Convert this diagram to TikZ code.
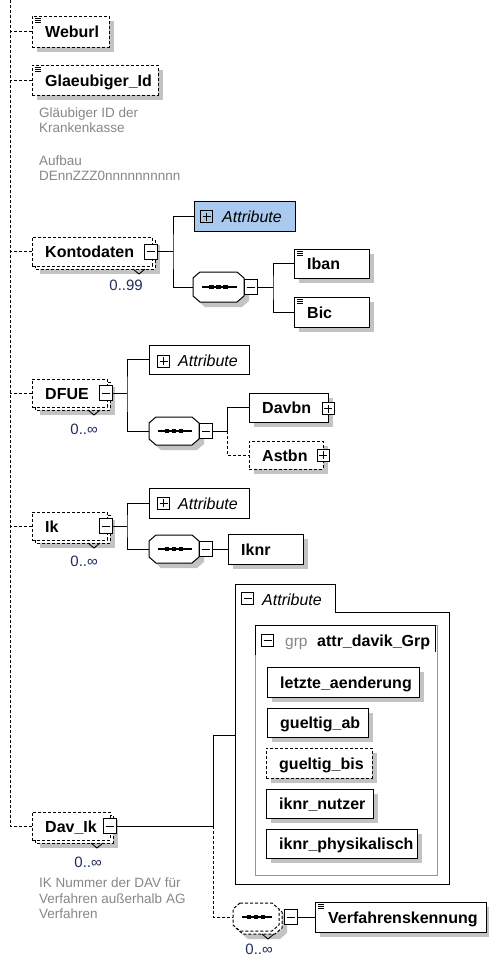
\documentclass[tikz,border=0pt]{standalone}
\usepackage{fontspec}
\setmainfont{Liberation Sans}
\usetikzlibrary{calc}
\definecolor{shadowc}{RGB}{195,195,195}
\definecolor{attrblue}{RGB}{170,201,238}
\definecolor{desctxt}{RGB}{135,135,135}
\definecolor{occtxt}{RGB}{30,45,95}
\definecolor{grpline}{RGB}{150,150,150}
\tikzset{
 bx/.style={draw=black, fill=white, line width=1pt, inner sep=0pt, outer sep=0pt, rectangle},
 dsh/.style={dash pattern=on 3pt off 2pt},
 lbl/.style={font=\fontsize{16}{18}\selectfont\bfseries, inner sep=0pt, text=black},
 itl/.style={font=\fontsize{16}{18}\selectfont\itshape, inner sep=0pt},
 occl/.style={font=\fontsize{15}{17}\selectfont, text=occtxt, inner sep=0pt},
 dsc/.style={font=\fontsize{13.5}{15}\selectfont, text=desctxt, inner sep=0pt},
 conn/.style={draw=black, line width=1pt},
 dconn/.style={conn, dsh},
 pmb/.style={bx, minimum width=13pt, minimum height=15pt},
 pms/.style={bx, minimum width=12pt, minimum height=12pt},
}
\newcommand\mkpm[5]{%
 \node[#4] (#1) at (#2,#3) {};
 \draw[line width=1pt] ([xshift=-4pt]#1.center) -- ([xshift=4pt]#1.center);
 \ifnum#5=1 \draw[line width=1pt] ([yshift=-4pt]#1.center) -- ([yshift=4pt]#1.center);\fi
}
\newcommand\mkicon[2]{%
 \foreach \kk in {2.5,4.5,6.5} \draw[line width=0.8pt] (#1+3,#2+\kk) -- (#1+9,#2+\kk);}
\newcommand\mkel[8]{%
 \fill[shadowc] (#2+5,#3+5) rectangle (#4+5,#5+5);
 \node[bx,#6,minimum width=#4pt-#2pt,minimum height=#5pt-#3pt] (#1) at ({(#2+#4)/2},{(#3+#5)/2}) {};
 \ifnum#7=1 \mkicon{#2}{#3}\fi
 \node[lbl,anchor=base west] (#1-t) at (#2+13,{(#3+#5)/2+6}) {#8};}
\newcommand\mkrel[6]{%
 \fill[shadowc] (#2+8,#3+8) rectangle (#4+8,#5+8);
 \draw[line width=1pt,fill=white,dsh] (#2+3,#3+3) rectangle (#4+3,#5+3);
 \node[bx,dsh,minimum width=#4pt-#2pt,minimum height=#5pt-#3pt] (#1) at ({(#2+#4)/2},{(#3+#5)/2}) {};
 \node[lbl,anchor=base west] (#1-t) at (#2+13,{(#3+#5)/2+6}) {#6};
 \draw[line width=0.9pt] (#4-19,#5+3) -- (#4-13,#5+8) -- (#4-7,#5+3);}
\newcommand\octa[5]{%
 \path[#5] (#1+7,#2) -- (#3-7,#2) -- (#3,#2+6) -- (#3,#4-6) -- (#3-7,#4) -- (#1+7,#4) -- (#1,#4-6) -- (#1,#2+6) -- cycle;}
\newcommand\seqsym[3]{%
 \draw[line width=1.1pt] (#1+9,#3) -- (#2-7,#3);
 \foreach \dd in {-7,0,7} \fill ({(#1+#2)/2+\dd-2.25},#3-2.25) rectangle ++(4.5,4.5);}
\newcommand\mkseq[6]{%
 \octa{#2+5}{#3+5}{#4+5}{#5+5}{fill=shadowc}
 \octa{#2}{#3}{#4}{#5}{draw=black,fill=white,line width=1pt,#6}
 \node[inner sep=0pt,minimum width=#4pt-#2pt,minimum height=#5pt-#3pt] (#1) at ({(#2+#4)/2},{(#3+#5)/2}) {};
 \pgfmathsetmacro\cyy{(#3+#5)/2}
 \seqsym{#2}{#4}{\cyy}}
\begin{document}
\begin{tikzpicture}[x=1pt,y=-1pt]
\useasboundingbox (0,0) rectangle (488,959);
\fill[white] (0,0) rectangle (488,959);
\coordinate (vtop) at (10,0);
\coordinate (vbot) at (10,826);
\draw[dconn] (vtop) -- (vbot);

% Weburl / Glaeubiger
\mkel{weburl}{32}{16}{109}{47}{dsh}{1}{Weburl}
\draw[dconn] (weburl.west) -- (weburl.west -| vtop);
\mkel{glaeub}{32}{65}{158}{95}{dsh}{1}{Glaeubiger\_Id}
\draw[dconn] (glaeub.west) -- (glaeub.west -| vtop);
\node[dsc,anchor=base west] (g1) at (39,117) {Gläubiger ID der};
\node[dsc,anchor=base west] (g2) at (39,132) {Krankenkasse};
\node[dsc,anchor=base west] (g3) at (39,165) {Aufbau};
\node[dsc,anchor=base west] (g4) at (39,180) {DEnnZZZ0nnnnnnnnnn};

% Kontodaten
\mkrel{konto}{32}{237}{152}{266}{Kontodaten}
\mkpm{kmin}{151}{251.5}{pmb}{0}
\draw[dconn] (konto.west) -- (konto.west -| vtop);
\node[occl,anchor=base east] (kocc) at (143,290) {0..99};
\node[bx,fill=attrblue,minimum width=101pt,minimum height=30pt] (kattr) at (244.5,216) {};
\mkpm{kattrp}{206.5}{216.5}{pms,fill=attrblue}{1}
\node[itl,anchor=base west] (kattr-t) at (222,222) {Attribute};
\coordinate (kbr) at (173,251.5);
\mkseq{kseq}{193}{272}{244}{302}{solid}
\mkpm{kseqm}{250.5}{287}{pmb}{0}
\coordinate (kbr2) at (273,287);
\mkel{iban}{294}{249}{369}{278}{solid}{1}{Iban}
\mkel{bic}{294}{297}{369}{327}{solid}{1}{Bic}
\draw[conn] (kmin.east) -- (kbr);
\draw[conn] (kattr.west) -| (kbr) |- (kseq.west);
\draw[conn] (kseqm.east) -- (kbr2);
\draw[conn] (iban.west) -| (kbr2) |- (bic.west);

% DFUE
\mkrel{dfue}{32}{379}{107}{407}{DFUE}
\mkpm{dmin}{106}{393}{pmb}{0}
\draw[dconn] (dfue.west) -- (dfue.west -| vtop);
\node[occl,anchor=base east] (docc) at (98,434) {0..∞};
\node[bx,minimum width=100pt,minimum height=29pt] (dattr) at (199,359.5) {};
\mkpm{dattrp}{163.5}{361}{pms}{1}
\node[itl,anchor=base west] (dattr-t) at (178,366) {Attribute};
\coordinate (dbr) at (127,393);
\mkseq{dseq}{149}{417}{199}{445}{solid}
\mkpm{dseqm}{206}{431}{pmb}{0}
\coordinate (dbr2) at (227,431);
\mkel{davbn}{249}{393}{328}{422}{solid}{0}{Davbn}
\mkpm{davbnp}{328}{408.5}{pms}{1}
\mkel{astbn}{249}{441}{323}{469}{dsh}{0}{Astbn}
\mkpm{astbnp}{323}{455}{pms}{1}
\draw[conn] (dmin.east) -- (dbr);
\draw[conn] (dattr.west) -| (dbr) |- (dseq.west);
\draw[conn] (dseqm.east) -- (dbr2);
\draw[conn] (davbn.west) -| (dbr2);
\draw[dconn] (dbr2) |- (astbn.west);

% Ik
\mkrel{ik}{32}{512}{107}{540}{Ik}
\mkpm{imin}{106}{526}{pmb}{0}
\draw[dconn] (ik.west) -- (ik.west -| vtop);
\node[occl,anchor=base east] (iocc) at (98,566) {0..∞};
\node[bx,minimum width=100pt,minimum height=30pt] (iattr) at (199,503) {};
\mkpm{iattrp}{163.5}{503}{pms}{1}
\node[itl,anchor=base west] (iattr-t) at (178,509) {Attribute};
\coordinate (ibr) at (127,526);
\mkseq{iseq}{149}{535}{199}{563}{solid}
\mkpm{iseqm}{206}{549}{pmb}{0}
\mkel{iknr}{228}{534}{303}{564}{solid}{0}{Iknr}
\draw[conn] (imin.east) -- (ibr);
\draw[conn] (iattr.west) -| (ibr) |- (iseq.west);
\draw[conn] (iseqm.east) -- (iknr.west);

% Dav_Ik attribute frame
\draw[line width=1pt, fill=white] (235,884) -- (235,584) -- (335,584) -- (335,612) -- (449,612) -- (449,884) -- cycle;
\coordinate (dvattr) at (235,735);
\mkpm{afm}{247.5}{598.5}{pms}{0}
\node[itl,anchor=base west] (af-t) at (262,605) {Attribute};
\draw[grpline, line width=1pt] (255,625) rectangle (437,875);
\draw[line width=1pt] (255,655) -- (255,625) -- (435,625) -- (435,652);
\mkpm{grpm}{267.5}{640}{pms}{0}
\node[font=\fontsize{15.5}{18}\selectfont, text=desctxt, inner sep=0pt, anchor=base west] (grp-k) at (285,646) {grp};
\node[lbl,anchor=base west] (grp-t) at (317,646) {attr\_davik\_Grp};
\mkel{la}{267}{667}{419}{697}{solid}{0}{letzte\_aenderung}
\mkel{gab}{267}{708}{368}{737}{solid}{0}{gueltig\_ab}
\mkel{gbis}{266}{748}{372}{778}{dsh}{0}{gueltig\_bis}
\mkel{inu}{266}{789}{373}{818}{solid}{0}{iknr\_nutzer}
\mkel{iph}{266}{829}{417}{858}{solid}{0}{iknr\_physikalisch}

% Dav_Ik
\mkrel{davik}{32}{812}{110}{840}{Dav\_Ik}
\mkpm{dvmin}{110}{826}{pmb}{0}
\draw[dconn] (davik.west) -- (davik.west -| vtop);
\node[occl,anchor=base east] (dvocc) at (102,867) {0..∞};
\node[dsc,anchor=base west] (dv1) at (39,887) {IK Nummer der DAV für};
\node[dsc,anchor=base west] (dv2) at (39,903) {Verfahren außerhalb AG};
\node[dsc,anchor=base west] (dv3) at (39,918) {Verfahren};
\coordinate (dvbr) at (213,826);
\draw[conn] (dvmin.east) -- (dvbr) |- (dvattr);

\octa{241}{911}{287}{939}{fill=shadowc}
\octa{236}{906}{282}{934}{draw=black,fill=white,line width=1pt,dsh}
\octa{233}{903}{279}{931}{draw=black,fill=white,line width=1pt,dsh}
\node[inner sep=0pt,minimum width=46pt,minimum height=28pt] (dvseq) at (256,917) {};
\seqsym{233}{279}{917}
\draw[line width=0.9pt] (262,934) -- (268,939) -- (274,934);
\node[occl,anchor=base east] (sqocc) at (273,954) {0..∞};
\mkpm{dvseqm}{291}{917}{pmb}{0}
\mkel{verf}{315}{902}{486}{932}{solid}{1}{Verfahrenskennung}
\draw[dconn] (dvbr) |- (dvseq.west);
\draw[conn] (dvseqm.east) -- (verf.west);
\end{tikzpicture}
\end{document}
